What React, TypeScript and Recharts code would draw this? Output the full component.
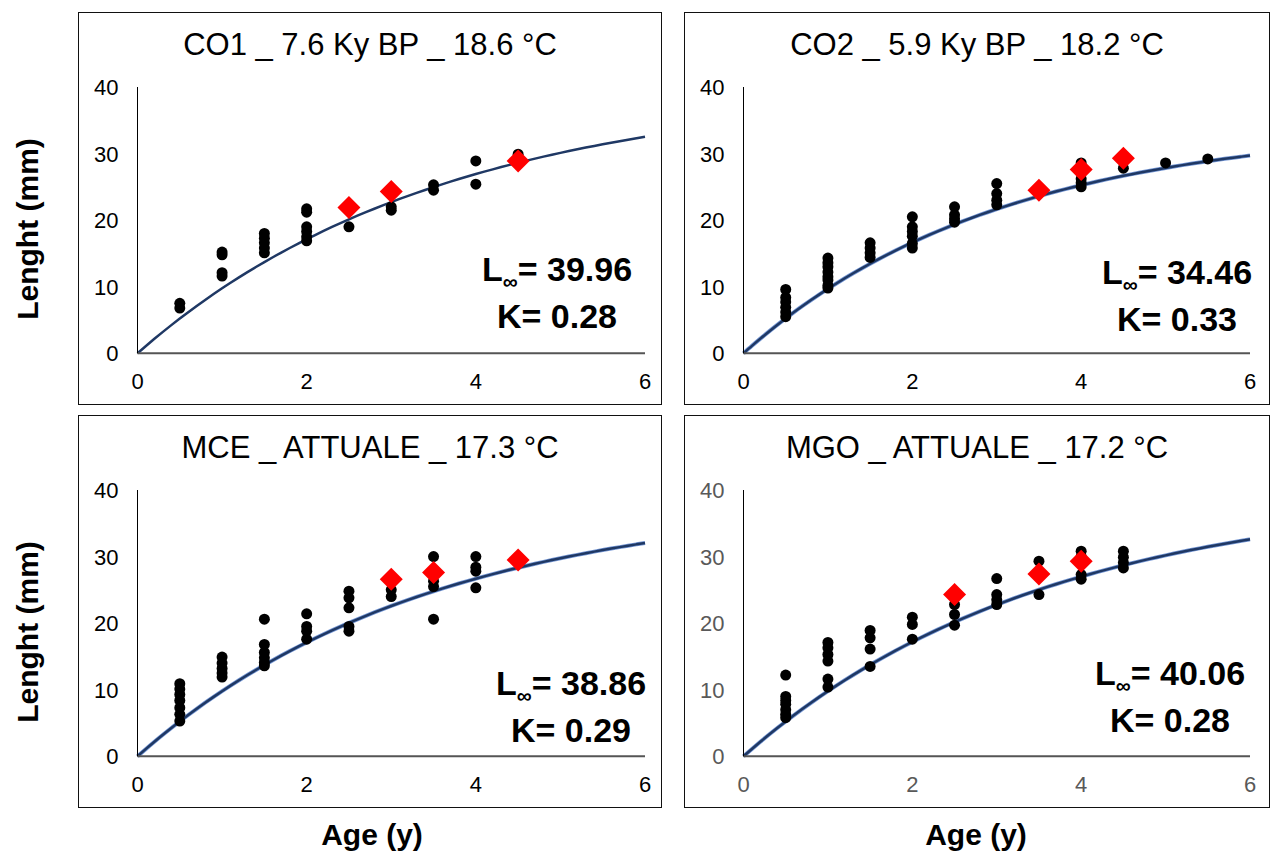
import React from 'react'
import { ComposedChart, XAxis, YAxis, Scatter, Line } from 'recharts'

// growth parameters (von Bertalanffy) per site
const co1Params = { linf: 39.96, k: 0.28 }
const co2Params = { linf: 34.46, k: 0.33 }
const mceParams = { linf: 38.86, k: 0.29 }
const mgoParams = { linf: 40.06, k: 0.28 }

const ageTicks = [0, 2, 4, 6]
const lengthTicks = [0, 10, 20, 30, 40]

// individual shells: age (y), length (mm)
const co1Obs = [
  { age: 0.5, len: 7.5 }, { age: 0.5, len: 6.8 },
  { age: 1, len: 15.2 }, { age: 1, len: 14.8 }, { age: 1, len: 12.1 }, { age: 1, len: 11.6 },
  { age: 1.5, len: 18.0 }, { age: 1.5, len: 17.3 }, { age: 1.5, len: 16.6 }, { age: 1.5, len: 15.8 }, { age: 1.5, len: 15.1 },
  { age: 2, len: 21.7 }, { age: 2, len: 21.2 }, { age: 2, len: 19.0 }, { age: 2, len: 18.3 }, { age: 2, len: 17.5 }, { age: 2, len: 16.9 },
  { age: 2.5, len: 19.0 },
  { age: 3, len: 22.0 }, { age: 3, len: 21.5 },
  { age: 3.5, len: 25.3 }, { age: 3.5, len: 24.5 },
  { age: 4, len: 28.9 }, { age: 4, len: 25.4 },
  { age: 4.5, len: 29.9 },
]
const co1Mean = [{ age: 2.5, len: 21.9 }, { age: 3, len: 24.3 }, { age: 4.5, len: 28.9 }]

const co2Obs = [
  { age: 0.5, len: 9.6 }, { age: 0.5, len: 8.4 }, { age: 0.5, len: 7.7 }, { age: 0.5, len: 6.9 }, { age: 0.5, len: 6.2 }, { age: 0.5, len: 5.5 },
  { age: 1, len: 14.3 }, { age: 1, len: 13.6 }, { age: 1, len: 13.0 }, { age: 1, len: 12.2 }, { age: 1, len: 11.5 }, { age: 1, len: 11.0 }, { age: 1, len: 10.2 }, { age: 1, len: 9.8 },
  { age: 1.5, len: 16.6 }, { age: 1.5, len: 15.8 }, { age: 1.5, len: 15.1 }, { age: 1.5, len: 14.4 },
  { age: 2, len: 20.5 }, { age: 2, len: 19.0 }, { age: 2, len: 18.3 }, { age: 2, len: 17.6 }, { age: 2, len: 16.5 }, { age: 2, len: 15.8 },
  { age: 2.5, len: 22.0 }, { age: 2.5, len: 20.8 }, { age: 2.5, len: 20.2 }, { age: 2.5, len: 19.7 },
  { age: 3, len: 25.5 }, { age: 3, len: 24.0 }, { age: 3, len: 23.0 }, { age: 3, len: 22.3 },
  { age: 4, len: 28.6 }, { age: 4, len: 26.2 }, { age: 4, len: 25.6 }, { age: 4, len: 25.0 },
  { age: 4.5, len: 27.8 },
  { age: 5, len: 28.6 },
  { age: 5.5, len: 29.2 },
]
const co2Mean = [{ age: 3.5, len: 24.5 }, { age: 4, len: 27.6 }, { age: 4.5, len: 29.3 }]

const mceObs = [
  { age: 0.5, len: 10.9 }, { age: 0.5, len: 10.1 }, { age: 0.5, len: 9.3 }, { age: 0.5, len: 8.4 }, { age: 0.5, len: 7.3 }, { age: 0.5, len: 6.3 }, { age: 0.5, len: 5.3 },
  { age: 1, len: 14.9 }, { age: 1, len: 14.0 }, { age: 1, len: 13.2 }, { age: 1, len: 12.5 }, { age: 1, len: 11.9 },
  { age: 1.5, len: 20.6 }, { age: 1.5, len: 16.8 }, { age: 1.5, len: 15.6 }, { age: 1.5, len: 14.8 }, { age: 1.5, len: 14.1 }, { age: 1.5, len: 13.6 },
  { age: 2, len: 21.4 }, { age: 2, len: 19.5 }, { age: 2, len: 18.8 }, { age: 2, len: 17.6 },
  { age: 2.5, len: 24.8 }, { age: 2.5, len: 23.8 }, { age: 2.5, len: 22.3 }, { age: 2.5, len: 19.5 }, { age: 2.5, len: 18.8 },
  { age: 3, len: 25.0 }, { age: 3, len: 24.0 },
  { age: 3.5, len: 30.0 }, { age: 3.5, len: 26.3 }, { age: 3.5, len: 25.5 }, { age: 3.5, len: 20.6 },
  { age: 4, len: 30.0 }, { age: 4, len: 28.4 }, { age: 4, len: 27.8 }, { age: 4, len: 25.3 },
]
const mceMean = [{ age: 3, len: 26.6 }, { age: 3.5, len: 27.6 }, { age: 4.5, len: 29.5 }]

const mgoObs = [
  { age: 0.5, len: 12.2 }, { age: 0.5, len: 9.0 }, { age: 0.5, len: 8.4 }, { age: 0.5, len: 7.8 }, { age: 0.5, len: 7.0 }, { age: 0.5, len: 6.3 }, { age: 0.5, len: 5.8 },
  { age: 1, len: 17.1 }, { age: 1, len: 16.3 }, { age: 1, len: 15.3 }, { age: 1, len: 14.3 }, { age: 1, len: 11.6 }, { age: 1, len: 10.4 },
  { age: 1.5, len: 18.9 }, { age: 1.5, len: 17.8 }, { age: 1.5, len: 16.1 }, { age: 1.5, len: 13.5 },
  { age: 2, len: 20.9 }, { age: 2, len: 19.8 }, { age: 2, len: 17.6 },
  { age: 2.5, len: 22.8 }, { age: 2.5, len: 21.3 }, { age: 2.5, len: 19.7 },
  { age: 3, len: 26.7 }, { age: 3, len: 24.3 }, { age: 3, len: 23.5 }, { age: 3, len: 22.8 },
  { age: 3.5, len: 29.3 }, { age: 3.5, len: 24.3 },
  { age: 4, len: 30.8 }, { age: 4, len: 30.0 }, { age: 4, len: 27.3 }, { age: 4, len: 26.6 },
  { age: 4.5, len: 30.8 }, { age: 4.5, len: 29.9 }, { age: 4.5, len: 29.1 }, { age: 4.5, len: 28.3 },
]
const mgoMean = [{ age: 2.5, len: 24.3 }, { age: 3.5, len: 27.4 }, { age: 4, len: 29.3 }]

const curveAges = Array.from({ length: 61 }, (_, i) => i / 10)

const vbgf = (p: { linf: number; k: number }) =>
  curveAges.map((age) => ({ age, len: p.linf * (1 - Math.exp(-p.k * age)) }))

const FONT = '"Liberation Sans", Arial, sans-serif'

const Dot = (props: any) => <circle cx={props.cx} cy={props.cy} r={5.5} fill="#000" />

const Diamond = (props: any) => {
  const { cx, cy } = props
  const s = 11.5
  return <path d={`M${cx},${cy - s}L${cx + s},${cy}L${cx},${cy + s}L${cx - s},${cy}Z`} fill="#FF0000" />
}

// tick labels drawn by hand so the font size sticks
const makeXTick = (color: string) => (props: any) => (
  <text x={props.x} y={props.y + 36} textAnchor="middle" fontSize={22} fontFamily={FONT} fill={color}>
    {props.payload.value}
  </text>
)
const makeYTick = (color: string) => (props: any) => (
  <text x={props.x - 19} y={props.y + 8} textAnchor="end" fontSize={22} fontFamily={FONT} fill={color}>
    {props.payload.value}
  </text>
)

type PanelProps = {
  left: number
  top: number
  width: number
  right: number
  title: string
  params: { linf: number; k: number }
  obs: { age: number; len: number }[]
  mean: { age: number; len: number }[]
  halo: boolean
  tickColor: string
  noteX: number
  noteY: number
}

const Panel = (p: PanelProps) => {
  const height = 393
  const curve = vbgf(p.params)
  return (
    <div style={{ position: 'absolute', left: p.left, top: p.top, width: p.width, height }}>
      <ComposedChart
        width={p.width}
        height={height}
        margin={{ top: 75, right: p.right, bottom: 0, left: 0 }}
      >
        <XAxis
          type="number"
          dataKey="age"
          domain={[0, 6]}
          ticks={ageTicks}
          tickLine={false}
          tickSize={0}
          tickMargin={0}
          height={51.7}
          axisLine={{ stroke: '#555', strokeWidth: 2 }}
          tick={makeXTick(p.tickColor)}
          allowDuplicatedCategory={false}
        />
        <YAxis
          type="number"
          dataKey="len"
          domain={[0, 40]}
          ticks={lengthTicks}
          tickLine={false}
          tickSize={0}
          tickMargin={0}
          width={59.5}
          axisLine={{ stroke: '#000', strokeWidth: 1 }}
          tick={makeYTick(p.tickColor)}
        />
        {p.halo && (
          <Line
            data={curve}
            dataKey="len"
            type="monotone"
            stroke="#4472C4"
            strokeOpacity={0.75}
            strokeWidth={4}
            dot={false}
            activeDot={false}
            isAnimationActive={false}
          />
        )}
        <Line
          data={curve}
          dataKey="len"
          type="monotone"
          stroke="#1F3864"
          strokeWidth={2.5}
          dot={false}
          activeDot={false}
          isAnimationActive={false}
        />
        <Scatter data={p.obs} dataKey="len" shape={Dot} isAnimationActive={false} />
        <Scatter data={p.mean} dataKey="len" shape={Diamond} isAnimationActive={false} />
      </ComposedChart>
      <div
        style={{
          position: 'absolute',
          left: 0,
          top: 15,
          width: p.width,
          textAlign: 'center',
          fontFamily: FONT,
          fontSize: 31,
          color: '#000',
          whiteSpace: 'nowrap',
        }}
      >
        {p.title}
      </div>
      <div
        style={{
          position: 'absolute',
          left: p.noteX - 130,
          top: p.noteY,
          width: 260,
          textAlign: 'center',
          fontFamily: FONT,
          fontWeight: 'bold',
          fontSize: 34,
          lineHeight: '42px',
          color: '#000',
          whiteSpace: 'nowrap',
        }}
      >
        <div>
          L<span style={{ fontSize: 21, position: 'relative', top: 8 }}>∞</span>= {p.params.linf.toFixed(2)}
        </div>
        <div>K= {p.params.k.toFixed(2)}</div>
      </div>
      <div
        style={{
          position: 'absolute',
          left: 0,
          top: 0,
          width: p.width,
          height,
          boxSizing: 'border-box',
          border: '1.5px solid #111',
          pointerEvents: 'none',
        }}
      />
    </div>
  )
}

const yTitle = (cy: number) => (
  <div
    style={{
      position: 'absolute',
      left: 28 - 120,
      top: cy - 20,
      width: 240,
      height: 40,
      lineHeight: '40px',
      textAlign: 'center',
      transform: 'rotate(-90deg)',
      fontFamily: FONT,
      fontWeight: 'bold',
      fontSize: 30,
      color: '#000',
      whiteSpace: 'nowrap',
    }}
  >
    Lenght (mm)
  </div>
)

const xTitle = (cx: number) => (
  <div
    style={{
      position: 'absolute',
      left: cx - 120,
      top: 815,
      width: 240,
      height: 40,
      lineHeight: '40px',
      textAlign: 'center',
      fontFamily: FONT,
      fontWeight: 'bold',
      fontSize: 30,
      color: '#000',
    }}
  >
    Age (y)
  </div>
)

export default function App() {
  return (
    <div style={{ position: 'fixed', left: 0, top: 0, width: 1284, height: 856, background: '#fff', overflow: 'hidden' }}>
      <Panel left={78} top={12} width={584} right={17} title="CO1 _ 7.6 Ky BP _ 18.6 °C"
        params={co1Params} obs={co1Obs} mean={co1Mean} halo={false} tickColor="#000" noteX={479} noteY={236} />
      <Panel left={684} top={12} width={586} right={20} title="CO2 _ 5.9 Ky BP _ 18.2 °C"
        params={co2Params} obs={co2Obs} mean={co2Mean} halo={true} tickColor="#000" noteX={493} noteY={239} />
      <Panel left={78} top={415} width={584} right={17} title="MCE _ ATTUALE _ 17.3 °C"
        params={mceParams} obs={mceObs} mean={mceMean} halo={true} tickColor="#000" noteX={493} noteY={247} />
      <Panel left={684} top={415} width={586} right={20} title="MGO _ ATTUALE _ 17.2 °C"
        params={mgoParams} obs={mgoObs} mean={mgoMean} halo={true} tickColor="#595959" noteX={486} noteY={237} />
      {yTitle(229)}
      {yTitle(632)}
      {xTitle(372)}
      {xTitle(976)}
    </div>
  )
}
